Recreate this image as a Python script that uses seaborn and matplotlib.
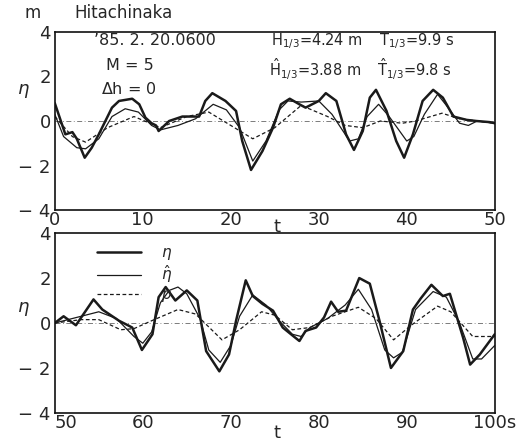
import numpy as np
import pandas as pd
import matplotlib
matplotlib.use("Agg")
import matplotlib.pyplot as plt
import seaborn as sns

# ---- data: upper panel (0-50 s) ----
t_eta1 = [0, 0.3, 1.2, 2.0, 2.5, 3.4, 4.2, 5.0, 6.5, 7.3, 8.8, 9.6, 10.3, 11.0, 11.5, 11.8, 13.0, 14.5, 16.4, 17.1, 17.9, 19.4, 20.6, 21.3, 22.3, 23.6, 24.8, 25.7, 26.7, 27.8, 28.5, 30.0, 30.8, 32.0, 33.1, 34.0, 35.0, 35.8, 36.5, 37.7, 38.8, 39.7, 40.7, 41.8, 43.0, 44.1, 45.3, 46.8, 47.9, 49.4, 50]
eta1 = [0.8, 0.45, -0.6, -0.5, -0.8, -1.65, -1.2, -0.6, 0.6, 0.9, 1.0, 0.75, 0.15, -0.1, -0.2, -0.45, 0.0, 0.2, 0.2, 0.9, 1.25, 0.9, 0.45, -0.9, -2.2, -1.35, -0.3, 0.75, 1.0, 0.75, 0.6, 0.9, 1.25, 0.9, -0.6, -1.3, -0.45, 1.05, 1.4, 0.45, -0.9, -1.65, -0.6, 0.9, 1.4, 1.05, 0.2, 0.05, 0.0, -0.05, -0.1]
t_hat1 = [0, 1, 2.5, 3.5, 5, 6.5, 8, 9.5, 11, 12, 14, 16, 18, 19.5, 21, 22.5, 24, 25.5, 26.5, 28, 30, 31.5, 33.5, 34.5, 35.5, 36.8, 38, 40, 40.8, 42, 43.5, 44.5, 46, 47, 48, 50]
eta_hat1 = [0.3, -0.7, -1.2, -1.25, -0.8, 0.2, 0.55, 0.4, -0.2, -0.4, -0.2, 0.1, 0.75, 0.5, -0.3, -1.8, -0.9, 0.5, 0.9, 0.85, 0.9, 0.3, -0.9, -0.8, 0.2, 0.75, 0.2, -0.9, -0.7, 0.3, 1.2, 0.7, -0.1, -0.2, 0.0, -0.1]
t_p1 = [0, 2, 3.5, 6, 9, 12, 15, 17.5, 20, 22.5, 25, 28, 31, 33, 35, 37, 39.5, 41, 44, 46, 48, 50]
p1 = [0.2, -0.7, -0.95, -0.3, 0.2, -0.3, 0.2, 0.4, -0.2, -0.8, -0.3, 0.7, 0.2, -0.2, -0.3, 0.0, -0.1, 0.0, 0.35, 0.1, 0.0, -0.1]

# ---- data: lower panel (50-100 s) ----
t_eta2 = [50, 51, 52.4, 54.4, 55.4, 57.3, 58.8, 59.9, 61.1, 61.8, 62.6, 63.7, 65.0, 66.2, 67.2, 68.7, 69.8, 70.6, 71.7, 72.5, 73.6, 74.8, 75.9, 77.0, 77.8, 78.5, 79.7, 80.6, 81.4, 82.2, 83.1, 84.6, 85.8, 86.9, 88.2, 89.6, 90.7, 91.6, 92.8, 94.1, 94.9, 96.4, 97.2, 98.3, 100]
eta2 = [0.0, 0.3, -0.1, 1.05, 0.6, 0.1, -0.2, -1.2, -0.5, 1.15, 1.6, 1.0, 1.45, 1.0, -1.25, -2.15, -1.4, 0.1, 1.9, 1.2, 0.85, 0.55, -0.2, -0.55, -0.8, -0.35, -0.2, 0.25, 0.95, 0.5, 0.55, 2.0, 1.75, 0.1, -2.0, -1.25, 0.6, 1.1, 1.7, 1.2, 1.3, -0.65, -1.85, -1.4, -0.5]
t_hat2 = [50, 52, 55, 57, 59, 60, 61, 62, 63, 64, 65, 66.5, 67.5, 68.8, 70, 71, 72.5, 74, 75.5, 77, 78, 79, 81, 83, 84.5, 86, 87.5, 88.5, 89.5, 91, 93, 94.5, 96, 97.5, 98.5, 100]
eta_hat2 = [0.0, 0.2, 0.5, 0.2, -0.6, -0.9, -0.4, 0.9, 1.45, 1.6, 1.3, 0.2, -1.2, -1.75, -1.0, 0.3, 1.25, 0.8, 0.1, -0.5, -0.6, -0.2, 0.2, 0.8, 1.5, 0.6, -1.2, -1.55, -1.3, 0.6, 1.4, 1.15, 0.0, -1.6, -1.6, -1.0]
t_p2 = [50, 53, 55, 57.5, 59, 61, 64, 66, 69, 71, 73.5, 75, 77, 79, 81.5, 84.5, 86.5, 88.5, 90.5, 93.5, 95, 97.5, 100]
p2 = [0.0, 0.15, 0.15, -0.3, -0.25, 0.1, 0.6, 0.4, -0.75, -0.3, 0.5, 0.35, -0.3, -0.2, 0.3, 0.7, 0.2, -0.75, -0.1, 0.75, 0.5, -0.6, -0.6]

yticks = [4, 2, 0, -2, -4]
ytick_labels = ["4", "2", "0", "\u2212 2", "\u2212 4"]
xticks_top = [0, 10, 20, 30, 40, 50]
xlabels_top = ["0", "10", "20", "30", "40", "50"]
xticks_bot = [50, 60, 70, 80, 90, 100]
xlabels_bot = ["50", "60", "70", "80", "90", "100s"]

sns.set_style("white")
plt.rcParams["font.family"] = ["DejaVu Sans"]

fig = plt.figure(figsize=(5.32, 4.44), dpi=100)
ax1 = fig.add_axes([0.103, 0.527, 0.827, 0.401])
ax2 = fig.add_axes([0.103, 0.070, 0.827, 0.405])

def make_df(pairs):
    frames = []
    for name, t, v in pairs:
        frames.append(pd.DataFrame({"t": t, "v": v, "s": name}))
    return pd.concat(frames, ignore_index=True)

styles = {"eta": dict(lw=1.8, ls="-"), "hat": dict(lw=0.9, ls="-"), "p": dict(lw=0.9, ls=(0, (3, 2)))}

for ax, pairs, xt, xl, xlim, ylab_y in [
    (ax1, [("eta", t_eta1, eta1), ("hat", t_hat1, eta_hat1), ("p", t_p1, p1)], xticks_top, xlabels_top, (0, 50), 0.62),
    (ax2, [("eta", t_eta2, eta2), ("hat", t_hat2, eta_hat2), ("p", t_p2, p2)], xticks_bot, xlabels_bot, (50, 100), 0.53),
]:
    df = make_df(pairs)
    for name in ["eta", "hat", "p"]:
        sub = df[df.s == name]
        sns.lineplot(data=sub, x="t", y="v", ax=ax, color="#1a1a1a", sort=False,
                     linewidth=styles[name]["lw"], linestyle=styles[name]["ls"],
                     label={"eta": r"$\eta$", "hat": r"$\hat{\eta}$", "p": r"$p$"}[name])
    ax.axhline(0, color="#666666", lw=0.6, ls=(0, (6, 3, 1, 3)), zorder=0)
    ax.set_xlim(*xlim)
    ax.set_ylim(-4, 4)
    ax.set_xticks(xt)
    ax.set_xticklabels(xl, fontsize=13)
    ax.set_xticks(np.arange(xlim[0] + 5, xlim[1], 10), minor=True)
    ax.set_yticks(yticks)
    ax.set_yticklabels(ytick_labels, fontsize=13)
    ax.set_yticks([-3, -1, 1, 3], minor=True)
    ax.tick_params(axis="x", which="both", direction="in", length=6, width=0.8, pad=1, color="#333333")
    ax.tick_params(axis="y", which="both", direction="in", length=4, width=0.8, pad=3, color="#333333")
    ax.set_xlabel("")
    ax.set_ylabel(r"$\eta$", fontsize=13, rotation=0)
    ax.yaxis.set_label_coords(-0.072, ylab_y)
    for sp in ax.spines.values():
        sp.set_linewidth(1.2)
        sp.set_color("#111111")

# nudge first bottom tick label right so it clears the "-4" label
ax2.get_xticklabels()[0].set_horizontalalignment("left")

ax1.get_legend().remove()
leg = ax2.legend(loc="upper left", bbox_to_anchor=(0.065, 1.01), frameon=False, fontsize=11,
                 handlelength=2.9, handletextpad=1.3, labelspacing=0.1)

# axis labels "t" in the tick-label row
ax1.text(25.3, -4.35, "t", fontsize=13, ha="center", va="top")
ax2.text(75.3, -4.5, "t", fontsize=13, ha="center", va="top")

# header texts
fig.text(0.062, 0.99, "m", fontsize=12, ha="center", va="top")
fig.text(0.14, 0.99, "Hitachinaka", fontsize=12, ha="left", va="top")

ax1.text(4.5, 3.6, "\u201985. 2. 20.0600", fontsize=11.5, va="center")
ax1.text(5.8, 2.5, "M = 5", fontsize=11.5, va="center")
ax1.text(5.3, 1.45, r"$\Delta$h = 0", fontsize=11.5, va="center")
ax1.text(24.6, 3.6, r"H$_{1/3}$=4.24 m", fontsize=10.5, va="center")
ax1.text(36.8, 3.6, r"T$_{1/3}$=9.9 s", fontsize=10.5, va="center")
ax1.text(24.4, 2.35, r"$\hat{\mathrm{H}}_{1/3}$=3.88 m", fontsize=10.5, va="center")
ax1.text(36.6, 2.35, r"$\hat{\mathrm{T}}_{1/3}$=9.8 s", fontsize=10.5, va="center")

fig.savefig("out.png", dpi=100)
